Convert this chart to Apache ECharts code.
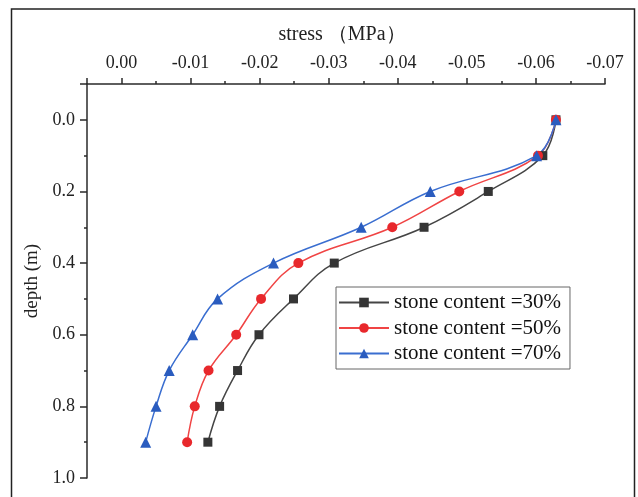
<!DOCTYPE html>
<html>
<head>
<meta charset="utf-8">
<script src="https://cdn.jsdelivr.net/npm/echarts@6/dist/echarts.min.js"></script>
<style>
html,body{margin:0;padding:0;background:#fff;}
#chart{width:638px;height:497px;}
</style>
</head>
<body>
<div id="chart"></div>
<script>
// depth (m)
const depths = [0, 0.1, 0.2, 0.3, 0.4, 0.5, 0.6, 0.7, 0.8, 0.9];
// stress (MPa)
const stress30 = [-0.0629, -0.0610, -0.0531, -0.0438, -0.0308, -0.0249, -0.0199, -0.0168, -0.0142, -0.0125];
const stress50 = [-0.0629, -0.0603, -0.0489, -0.0392, -0.0256, -0.0202, -0.0166, -0.0126, -0.0106, -0.0095];
const stress70 = [-0.0629, -0.0601, -0.0447, -0.0347, -0.0220, -0.0139, -0.0103, -0.0069, -0.0050, -0.0035];
const seriesNames = ['stone content =30%', 'stone content =50%', 'stone content =70%'];
const xTitle = 'stress （MPa）';
const yTitle = 'depth (m)';

const pairs = arr => arr.map((v, i) => [v, depths[i]]);
const FONT = '"Liberation Serif", "Times New Roman", serif';
const AX = '#2a2a2a';

const chart = echarts.init(document.getElementById('chart'), null, {renderer: 'canvas'});
chart.setOption({
  animation: false,
  backgroundColor: '#fff',
  graphic: [{
    type: 'rect', silent: true,
    shape: {x: 11.5, y: 9, width: 623, height: 510},
    style: {fill: 'none', stroke: '#222', lineWidth: 1.5}
  }],
  grid: {left: 87, top: 84, right: 33, bottom: 19, containLabel: false},
  xAxis: [{
    type: 'value', position: 'top', offset: 0, inverse: true,
    min: -0.07, max: 0.005, interval: 0.005,
    axisLine: {show: true, onZero: false, lineStyle: {color: AX, width: 1.5}},
    axisTick: {show: true, inside: false, length: 3, lineStyle: {color: AX, width: 1.5}},
    axisLabel: {show: false},
    splitLine: {show: false}
  }, {
    type: 'value', position: 'top', offset: 0, inverse: true,
    min: -0.07, max: 0.005, interval: 0.01,
    name: xTitle, nameLocation: 'middle', nameGap: 39,
    nameTextStyle: {fontFamily: FONT, fontSize: 20, color: '#222', padding: [0, 8, 0, 0]},
    axisLine: {show: false, onZero: false},
    axisTick: {show: true, inside: false, length: 6, lineStyle: {color: AX, width: 1.5}},
    axisLabel: {
      show: true, margin: 12, fontFamily: FONT, fontSize: 18, color: '#222',
      formatter: v => (Math.abs(Math.round(v * 1000) % 10) === 0 && v <= 1e-9) ? v.toFixed(2) : ''
    },
    splitLine: {show: false}
  }],
  yAxis: [{
    type: 'value', position: 'left', offset: 0, inverse: true,
    min: -0.1, max: 1.0, interval: 0.1,
    axisLine: {show: true, onZero: false, lineStyle: {color: AX, width: 1.5}},
    axisTick: {show: true, inside: false, length: 3, lineStyle: {color: AX, width: 1.5}},
    axisLabel: {show: false},
    splitLine: {show: false}
  }, {
    type: 'value', position: 'left', offset: 0, inverse: true,
    min: -0.1, max: 1.0, splitNumber: 5,
    name: yTitle, nameLocation: 'middle', nameGap: 42, nameRotate: 90,
    nameTextStyle: {fontFamily: FONT, fontSize: 19, color: '#222'},
    axisLine: {show: false, onZero: false},
    axisTick: {show: true, inside: false, length: 7, lineStyle: {color: AX, width: 1.5}},
    axisLabel: {
      show: true, margin: 12, fontFamily: FONT, fontSize: 18, color: '#222',
      formatter: v => (v > -1e-9 && Math.abs(Math.round(v * 10) % 2) === 0) ? v.toFixed(1) : ''
    },
    splitLine: {show: false}
  }],
  legend: {
    orient: 'vertical', left: 336, top: 287,
    padding: [5, 9, 5, 2], itemGap: 4.5,
    itemWidth: 50, itemHeight: 12,
    borderColor: '#666', borderWidth: 1, backgroundColor: '#fff',
    textStyle: {fontFamily: FONT, fontSize: 21, color: '#111'},
    data: seriesNames
  },
  series: [{
    name: seriesNames[0], type: 'line', xAxisIndex: 0, yAxisIndex: 0,
    data: pairs(stress30), smooth: 0.4,
    symbol: 'rect', symbolSize: 9,
    lineStyle: {color: '#454545', width: 1.5},
    itemStyle: {color: '#353535'}
  }, {
    name: seriesNames[1], type: 'line', xAxisIndex: 0, yAxisIndex: 0,
    data: pairs(stress50), smooth: 0.4,
    symbol: 'circle', symbolSize: 10,
    lineStyle: {color: '#f04444', width: 1.5},
    itemStyle: {color: '#e8282c'}
  }, {
    name: seriesNames[2], type: 'line', xAxisIndex: 0, yAxisIndex: 0,
    data: pairs(stress70), smooth: 0.4,
    symbol: 'triangle', symbolSize: 11,
    lineStyle: {color: '#3a6ed0', width: 1.5},
    itemStyle: {color: '#2a5cbf'}
  }]
});
</script>
</body>
</html>
